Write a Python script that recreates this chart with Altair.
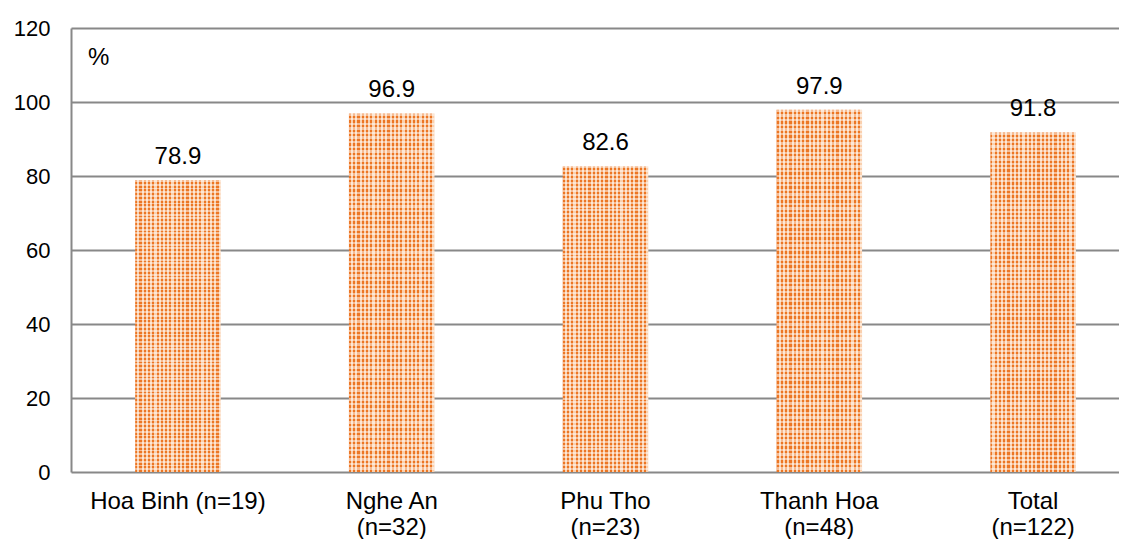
import altair as alt
import pandas as pd

categories = ["Hoa Binh (n=19)", "Nghe An\n(n=32)", "Phu Tho\n(n=23)",
              "Thanh Hoa\n(n=48)", "Total\n(n=122)"]
values = [78.9, 96.9, 82.6, 97.9, 91.8]
y_ticks = [0, 20, 40, 60, 80, 100, 120]

df = pd.DataFrame({"cat": categories, "val": values})

FONT = "Liberation Sans"
ORANGE = "#EC7624"
PALE = "#FAD0AE"


def stripes(n, c1, c2, horizontal):
    stops = []
    for k in range(n):
        a = k / n
        m = (k + 0.5) / n
        b = (k + 1) / n
        stops += [alt.GradientStop(offset=a, color=c1),
                  alt.GradientStop(offset=m, color=c1),
                  alt.GradientStop(offset=m, color=c2),
                  alt.GradientStop(offset=b, color=c2)]
    if horizontal:
        return alt.Gradient(gradient="linear", stops=stops, x1=0, x2=1, y1=0, y2=0)
    return alt.Gradient(gradient="linear", stops=stops, x1=0, x2=0, y1=0, y2=1)


x_enc = alt.X("cat:N", sort=None, title=None,
              scale=alt.Scale(range=[0, 1069], paddingInner=0.6, paddingOuter=0.3),
              axis=alt.Axis(domain=False, ticks=False, labelAngle=0,
                            labelExpr="split(datum.label, '\\n')",
                            labelFont=FONT, labelFontSize=24, labelColor="#000000",
                            labelPadding=17, labelLineHeight=26, labelBaseline="top",
                            labelOverlap=False, grid=False))
y_enc = alt.Y("val:Q", title=None,
              scale=alt.Scale(domain=[0, 120], nice=False),
              axis=alt.Axis(values=y_ticks, ticks=False, domain=True,
                            domainColor="#888888", domainWidth=2,
                            grid=True, gridColor="#888888", gridWidth=2,
                            labelFont=FONT, labelFontSize=22, labelColor="#000000",
                            labelPadding=21))

base = alt.Chart(df)

bars = base.mark_bar(fill=stripes(20, ORANGE, PALE, True)).encode(x=x_enc, y=y_enc)
overlay = base.mark_bar(fill=stripes(78, "rgba(255,255,255,0.5)", "rgba(255,255,255,0)", False)).encode(
    x=alt.X("cat:N", sort=None), y="val:Q")
labels = base.mark_text(font=FONT, fontSize=24, color="#000000", baseline="alphabetic",
                        dy=-16).encode(x=alt.X("cat:N", sort=None), y="val:Q",
                                       text=alt.Text("val:Q", format=".1f"))
pct = alt.Chart(pd.DataFrame({"t": ["%"]})).mark_text(
    font=FONT, fontSize=24, color="#000000", align="left", baseline="alphabetic"
).encode(x=alt.value(17), y=alt.value(37), text="t:N")

chart = alt.layer(bars, overlay, labels, pct).properties(
    width=1048, height=444,
    autosize=alt.AutoSizeParams(type="none"),
    padding={"left": 63, "top": 20, "right": 0, "bottom": 67},
).configure_view(stroke=None)

chart.save("out.html", embed_options={"renderer": "svg", "actions": False})
